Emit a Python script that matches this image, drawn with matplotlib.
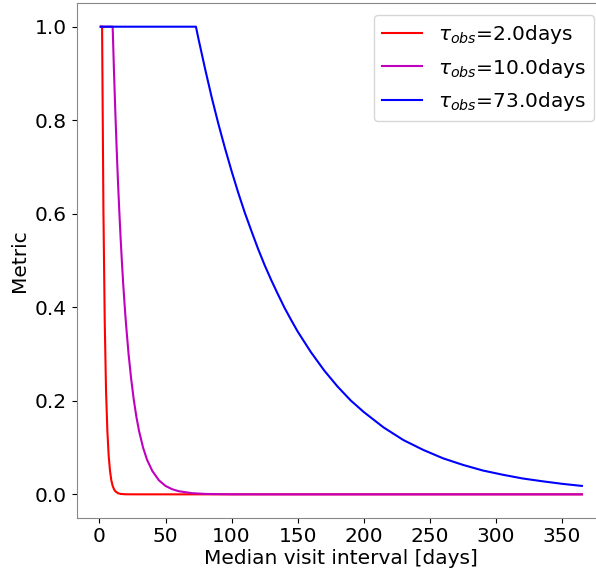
import matplotlib
matplotlib.use("Agg")
import matplotlib.pyplot as plt

# Values
x_tau2 = [1, 2, 3, 4, 5, 6, 7, 8, 9, 10, 11, 12, 14, 16, 20, 30, 50, 100, 200, 365]
y_tau2 = [1, 1, 0.61, 0.37, 0.22, 0.135, 0.082, 0.05, 0.03, 0.018, 0.011,
          0.0067, 0.0025, 0.0009, 0.0001, 0, 0, 0, 0, 0]

x_tau10 = [1, 10, 11, 12, 13, 14, 15, 16, 17, 18, 19, 20, 22, 24, 26, 28, 30,
           33, 36, 40, 45, 50, 55, 60, 70, 80, 100, 150, 365]
y_tau10 = [1, 1, 0.905, 0.819, 0.741, 0.670, 0.607, 0.549, 0.497, 0.449,
           0.407, 0.368, 0.301, 0.247, 0.202, 0.165, 0.135, 0.100, 0.074,
           0.050, 0.030, 0.018, 0.011, 0.0067, 0.0025, 0.0009, 0.0001, 0, 0]

x_tau73 = [1, 73, 75, 80, 85, 90, 95, 100, 105, 110, 115, 120, 125, 130, 135,
           140, 145, 150, 160, 170, 180, 190, 200, 215, 230, 245, 260, 275,
           290, 305, 320, 335, 350, 365]
y_tau73 = [1, 1, 0.973, 0.909, 0.848, 0.792, 0.740, 0.691, 0.645, 0.602,
           0.563, 0.525, 0.490, 0.458, 0.428, 0.399, 0.373, 0.348, 0.304,
           0.265, 0.231, 0.201, 0.176, 0.143, 0.116, 0.095, 0.077, 0.063,
           0.051, 0.042, 0.034, 0.028, 0.0225, 0.018]

labels = [r"$\tau_{obs}$=2.0days", r"$\tau_{obs}$=10.0days", r"$\tau_{obs}$=73.0days"]
colors = ["r", "m", "b"]

fs = 14.5
fig = plt.figure(figsize=(5.96, 5.71), dpi=100)
ax = fig.add_axes([0.1287, 0.0933, 0.888, 0.9009])

for xs, ys, lab, c in zip([x_tau2, x_tau10, x_tau73],
                          [y_tau2, y_tau10, y_tau73], labels, colors):
    ax.plot(xs, ys, color=c, label=lab, lw=1.5)

ax.set_xlabel("Median visit interval [days]", fontsize=fs, labelpad=2)
ax.set_ylabel("Metric", fontsize=fs)
ax.tick_params(labelsize=fs)
ax.set_xticks([0, 50, 100, 150, 200, 250, 300, 350])
ax.set_yticks([0.0, 0.2, 0.4, 0.6, 0.8, 1.0])
for s in ax.spines.values():
    s.set_color("#888888")
ax.legend(loc="upper right", fontsize=fs, borderaxespad=0.6)

fig.savefig("out.png", dpi=100)
